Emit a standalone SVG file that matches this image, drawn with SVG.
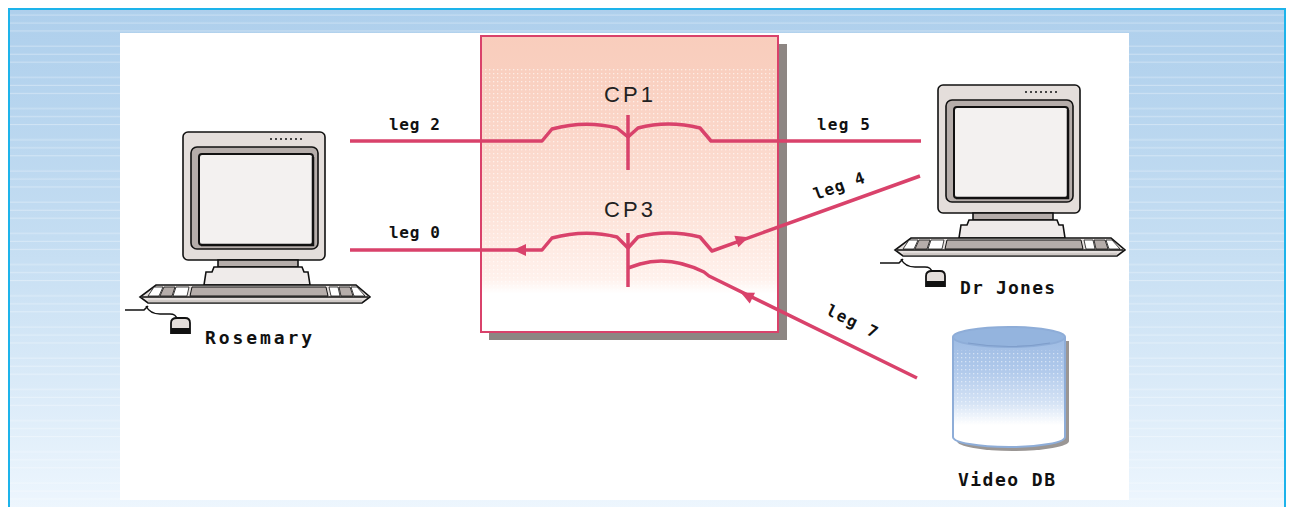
<svg xmlns="http://www.w3.org/2000/svg" xmlns:xlink="http://www.w3.org/1999/xlink" width="1291" height="507" viewBox="0 0 1291 507">
  <style>
    .leg { fill: none; stroke: #d9426b; stroke-width: 3.5; stroke-linejoin: round; }
    .arrow { fill: #d9426b; }
    .pix { font-family: "DejaVu Sans Mono", "Liberation Mono", monospace; font-weight: bold; font-size: 16px; fill: #111; }
    .name { font-size: 18px; }
    .cp { font-family: "Liberation Sans", Arial, sans-serif; font-size: 22px; fill: #222; letter-spacing: 3px; }
    .ink { stroke: #111; stroke-width: 1.6; }
  </style>
  <defs>
    <linearGradient id="bgGrad" x1="0" y1="0" x2="0" y2="1">
      <stop offset="0" stop-color="#aecfec"/>
      <stop offset="0.45" stop-color="#c4ddf2"/>
      <stop offset="1" stop-color="#eff7fe"/>
    </linearGradient>
    <pattern id="stripes" patternUnits="userSpaceOnUse" x="0" y="9" width="20" height="31.2">
      <rect x="0" y="5.5" width="20" height="1" fill="#ffffff" opacity="0.35"/>
      <rect x="0" y="13.5" width="20" height="1" fill="#ffffff" opacity="0.35"/>
      <rect x="0" y="21.5" width="20" height="1" fill="#ffffff" opacity="0.35"/>
    </pattern>
    <linearGradient id="cpGrad" x1="0" y1="36" x2="0" y2="332" gradientUnits="userSpaceOnUse">
      <stop offset="0" stop-color="#f9cdbc"/>
      <stop offset="0.11" stop-color="#f9cfbf"/>
      <stop offset="0.35" stop-color="#fbd7ca"/>
      <stop offset="0.6" stop-color="#fde3d9"/>
      <stop offset="0.82" stop-color="#fff1ec"/>
      <stop offset="0.87" stop-color="#ffffff"/>
      <stop offset="1" stop-color="#ffffff"/>
    </linearGradient>
    <pattern id="dots" patternUnits="userSpaceOnUse" width="4" height="4">
      <rect x="1" y="1" width="1.3" height="1.3" fill="#ffffff"/>
    </pattern>
    <linearGradient id="dbGrad" x1="0" y1="337" x2="0" y2="447" gradientUnits="userSpaceOnUse">
      <stop offset="0" stop-color="#9dbbe3"/>
      <stop offset="0.3" stop-color="#b0c9eb"/>
      <stop offset="0.6" stop-color="#d5e3f5"/>
      <stop offset="0.8" stop-color="#ffffff"/>
      <stop offset="1" stop-color="#ffffff"/>
    </linearGradient>

    <!-- desktop computer: monitor, stand, keyboard, mouse -->
    <g id="pc">
      <rect x="183" y="132" width="142" height="128" rx="5" fill="#e4dedb" class="ink" stroke-width="2"/>
      <g fill="#444">
        <rect x="270" y="138" width="2" height="2"/><rect x="275" y="138" width="2" height="2"/>
        <rect x="280" y="138" width="2" height="2"/><rect x="285" y="138" width="2" height="2"/>
        <rect x="290" y="138" width="2" height="2"/><rect x="295" y="138" width="2" height="2"/>
        <rect x="300" y="138" width="2" height="2"/>
      </g>
      <rect x="191" y="147" width="127" height="102" rx="6" fill="#b5adaa" class="ink"/>
      <rect x="199" y="154" width="114" height="91" rx="3" fill="#f3f1f0" stroke="#111" stroke-width="2"/>
      <path d="M313 157 V245 H201" fill="none" stroke="#111" stroke-width="2.5"/>
      <rect x="218" y="260" width="80" height="7" fill="#b5adaa" class="ink"/>
      <path d="M214 267 H302 L304 272 L308 272 L310 285 H204 L206 272 L212 272 Z" fill="#efebea" class="ink"/>
      <path d="M156 285 H356 L370 297 L362 303 H148 L140 297 Z" fill="#e6e1df" class="ink" stroke-width="1.8"/>
      <path d="M142 297 H368" fill="none" stroke="#111" stroke-width="1.4"/>
      <path d="M148 301 H362" fill="none" stroke="#cfc9c6" stroke-width="2.5"/>
      <path d="M192 287 H326 L328 296 H190 Z" fill="#b5adaa" stroke="#111" stroke-width="1"/>
      <path d="M154 287 H163 L159 296 H148 Z" fill="#ffffff" stroke="#111" stroke-width="0.8"/>
      <path d="M164 287 H175 L172 296 H160 Z" fill="#b5adaa" stroke="#111" stroke-width="0.8"/>
      <path d="M176 287 H189 L187 296 H173 Z" fill="#ffffff" stroke="#111" stroke-width="0.8"/>
      <path d="M329 287 H338 L340 296 H331 Z" fill="#ffffff" stroke="#111" stroke-width="0.8"/>
      <path d="M339 287 H350 L353 296 H341 Z" fill="#b5adaa" stroke="#111" stroke-width="0.8"/>
      <path d="M351 287 H357 L365 296 H354 Z" fill="#ffffff" stroke="#111" stroke-width="0.8"/>
      <path d="M125 310 H144 L148 306" fill="none" stroke="#111" stroke-width="1.6"/>
      <path d="M146 306 Q150 314 160 314 H170 Q176 314 177 319" fill="none" stroke="#111" stroke-width="1.4"/>
      <path d="M171 323 Q171 318 177 318 H185 Q190 318 190 323 V333 H171 Z" fill="#e4dedb" stroke="#111" stroke-width="1.8"/>
      <rect x="171" y="328" width="19" height="5" fill="#111"/>
    </g>
  </defs>

  <!-- page frame with striped gradient -->
  <rect x="9" y="9" width="1276" height="510" fill="url(#bgGrad)"/>
  <rect x="9" y="9" width="1276" height="510" fill="url(#stripes)"/>
  <rect x="9" y="9" width="1276" height="510" fill="none" stroke="#1db3ea" stroke-width="2"/>
  <rect x="120" y="33" width="1009" height="467" fill="#ffffff"/>

  <!-- connection-point box -->
  <g id="cp-box">
    <rect x="489" y="44" width="298" height="296" fill="#8d8683"/>
    <rect x="481" y="36" width="297" height="296" fill="url(#cpGrad)"/>
    <rect x="481" y="68" width="297" height="230" fill="url(#dots)" opacity="0.6"/>
    <rect x="481" y="36" width="297" height="296" fill="none" stroke="#d9426b" stroke-width="2"/>
  </g>

  <g id="cp1">
    <text class="cp" x="630" y="102" text-anchor="middle">CP1</text>
  </g>
  <g id="cp3">
    <text class="cp" x="630" y="217" text-anchor="middle">CP3</text>
  </g>

  <!-- legs and the connection points joining them -->
  <g id="connectors">
    <path class="leg" d="M350 141 H542 L552 129 Q585 120 617 128 L628 137 L638 128 Q668 120 700 128 L711 141 H921"/>
    <path class="leg" d="M628 115 V170"/>
    <path class="leg" d="M350 250 H542 L552 238 Q585 229 617 237 L628 248 L638 237 Q668 229 700 237 L712 251 L920 176"/>
    <path class="leg" d="M628 233 V287"/>
    <path class="leg" d="M628 268 L640 264 Q670 255 704 272 L709 276 L917 378"/>
    <path class="arrow" d="M7 0 L-6 -6 L-6 6 Z" transform="translate(520 250) rotate(180)"/>
    <path class="arrow" d="M7 0 L-6 -6 L-6 6 Z" transform="translate(742 239.5) rotate(-19.6)"/>
    <path class="arrow" d="M7 0 L-6 -6 L-6 6 Z" transform="translate(747 295.5) rotate(206)"/>
  </g>

  <g id="leg-labels">
    <text class="pix" x="389" y="130" textLength="51" lengthAdjust="spacing">leg 2</text>
    <text class="pix" x="389" y="238" textLength="51" lengthAdjust="spacing">leg 0</text>
    <text class="pix" x="817" y="130" textLength="53" lengthAdjust="spacing">leg 5</text>
    <text class="pix" x="0" y="0" textLength="53" lengthAdjust="spacing" transform="translate(816 200) rotate(-19.6)">leg 4</text>
    <text class="pix" x="0" y="0" textLength="55" lengthAdjust="spacing" transform="translate(825 314) rotate(26)">leg 7</text>
  </g>

  <g id="rosemary">
    <use xlink:href="#pc"/>
    <text class="pix name" x="205" y="344" textLength="107" lengthAdjust="spacing">Rosemary</text>
  </g>

  <g id="dr-jones">
    <use xlink:href="#pc" transform="translate(755 -47)"/>
    <text class="pix name" x="960" y="294" textLength="95" lengthAdjust="spacing">Dr Jones</text>
  </g>

  <g id="video-db">
    <path d="M957 341 V441 A56 10 0 0 0 1069 441 V341 Z" fill="#9a9694"/>
    <path d="M953 337 V437 A56 10 0 0 0 1065 437 V337 Z" fill="url(#dbGrad)"/>
    <path d="M953 350 V430 A56 10 0 0 0 1065 430 V350 Z" fill="url(#dots)" opacity="0.5"/>
    <path d="M953 337 V437 A56 10 0 0 0 1065 437 V337" fill="none" stroke="#8eadd8" stroke-width="2"/>
    <ellipse cx="1009" cy="337" rx="56" ry="10" fill="#94b4de" stroke="#8eadd8" stroke-width="2"/>
    <path d="M968 343 Q1009 350 1050 343" fill="none" stroke="#7f9ecb" stroke-width="1.2"/>
    <text class="pix name" x="958" y="486" textLength="97" lengthAdjust="spacing">Video DB</text>
  </g>
</svg>
